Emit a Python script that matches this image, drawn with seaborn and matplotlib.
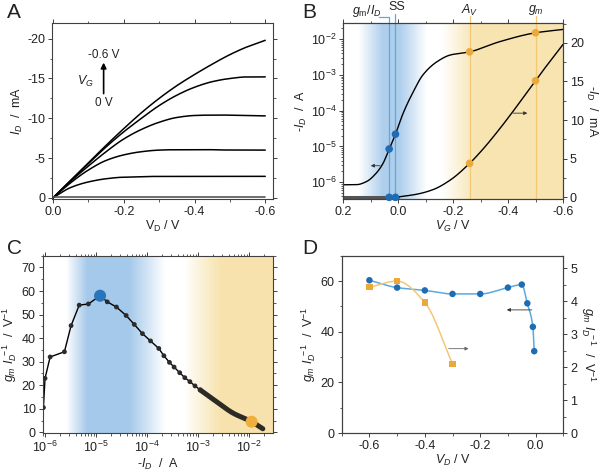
import numpy as np
import matplotlib
matplotlib.use("Agg")
import matplotlib.pyplot as plt
import seaborn as sns
from matplotlib.ticker import MultipleLocator, LogLocator, NullFormatter

# ---- data ----
# A: output curves, I_D (mA) vs V_D (V), one list per gate voltage
vd_a = [0.0, -0.05, -0.1, -0.15, -0.2, -0.25, -0.3, -0.35, -0.4, -0.45, -0.5, -0.55, -0.6]
id_vg06 = [0, -2.2, -4.4, -6.6, -8.7, -10.7, -12.5, -14.1, -15.5, -16.8, -18.0, -19.0, -19.8]
id_vg05 = [0, -2.2, -4.3, -6.4, -8.3, -10.0, -11.6, -12.9, -13.9, -14.6, -15.0, -15.2, -15.2]
id_vg04 = [0, -2.1, -4.0, -5.8, -7.4, -8.6, -9.5, -10.1, -10.35, -10.4, -10.4, -10.35, -10.3]
id_vg03 = [0, -1.9, -3.5, -4.7, -5.4, -5.8, -6.0, -6.05, -6.05, -6.05, -6.0, -6.0, -6.0]
id_vg02 = [0, -1.3, -2.0, -2.4, -2.6, -2.65, -2.7, -2.7, -2.7, -2.7, -2.7, -2.7, -2.7]
id_vg00 = [-0.05, -0.05, -0.05, -0.05, -0.05, -0.05, -0.05, -0.05, -0.05, -0.05, -0.05, -0.05, -0.05]

# B: transfer curve, log (A) and linear (mA)
vg_log = [0.2, 0.15, 0.115, 0.08, 0.055, 0.033, 0.01, -0.018, -0.055, -0.09, -0.14, -0.19, -0.26, -0.37, -0.5, -0.6]
id_log = [8.5e-7, 8.6e-7, 1.05e-6, 1.8e-6, 3.4e-6, 8.5e-6, 2.2e-5, 8.5e-5, 3.4e-4, 1.0e-3, 2.3e-3, 3.6e-3, 4.4e-3, 8.5e-3, 1.5e-2, 1.86e-2]
vg_off = [0.2, 0.1, 0.0]
id_off = [0.0, 0.0, 0.0]
vg_lin = [0.0, -0.067, -0.127, -0.188, -0.26, -0.31, -0.37, -0.43, -0.5, -0.55, -0.6]
id_lin = [0.05, 0.4, 1.0, 2.2, 4.4, 6.3, 8.9, 11.7, 15.1, 17.5, 19.8]
vg_blue = [0.033, 0.01]
id_blue_log = [8.5e-6, 2.2e-5]
id_blue_lin = [0.0, 0.0]
vg_orange = [-0.26, -0.5]
id_orange_log = [4.4e-3, 1.5e-2]
id_orange_lin = [4.4, 15.1]

# C: gm/ID vs -ID
id_c = [9.3e-7, 1.0e-6, 1.26e-6, 2.4e-6, 3.24e-6, 4.68e-6, 7.08e-6, 1.2e-5, 1.66e-5, 2.51e-5,
        3.89e-5, 5.62e-5, 8.13e-5, 1.17e-4, 1.7e-4, 2.14e-4, 2.75e-4, 3.39e-4, 4.37e-4, 5.5e-4,
        6.92e-4, 8.71e-4, 1.1e-3]
gm_c = [10.5, 22.9, 32.0, 34.2, 45.3, 54.0, 54.5, 58.0, 55.4, 53.2, 49.6, 45.8, 41.9, 38.8,
        35.6, 32.5, 29.7, 27.7, 25.3, 23.2, 21.5, 19.7, 18.0]
id_c_tail = [2.29e-3, 4.9e-3, 1.12e-2, 1.86e-2]
gm_c_tail = [13.0, 8.1, 4.5, 1.5]
c_peak = (1.2e-5, 58.0)
c_high = (1.12e-2, 4.5)

# D: gm/ID vs V_D
vd_d = [-0.6, -0.5, -0.4, -0.3, -0.2, -0.1, -0.05, -0.03, -0.01, -0.005]
gm_d_blue = [60.3, 57.4, 56.3, 54.9, 54.9, 57.4, 58.6, 51.2, 41.9, 32.3]
vd_d_or = [-0.6, -0.5, -0.4, -0.3]
gm_d_or = [4.42, 4.61, 3.96, 2.10]

# ---- style ----
sns.set_style("ticks")
plt.rcParams["font.family"] = ["Liberation Sans", "DejaVu Sans"]
plt.rcParams["mathtext.fontset"] = "custom"
plt.rcParams["mathtext.rm"] = "Liberation Sans"
plt.rcParams["mathtext.it"] = "Liberation Sans:italic"
plt.rcParams["mathtext.bf"] = "Liberation Sans:bold"
plt.rcParams["axes.unicode_minus"] = False
plt.rcParams["font.size"] = 9
plt.rcParams["axes.edgecolor"] = "#404040"
plt.rcParams["axes.linewidth"] = 0.8
plt.rcParams["text.color"] = "#222222"
plt.rcParams["axes.labelcolor"] = "#222222"
plt.rcParams["xtick.color"] = "#404040"
plt.rcParams["ytick.color"] = "#404040"
plt.rcParams["xtick.labelcolor"] = "#222222"
plt.rcParams["ytick.labelcolor"] = "#222222"

BLUE_DOT = "#1f6cb3"
BLUE_LINE = "#5aa9e0"
ORANGE_DOT = "#eaa93a"
ORANGE_LINE = "#f2c877"
BLUE_SHADE = (0.65, 0.79, 0.92)
YELLOW_SHADE = (0.97, 0.89, 0.68)


def pchip(x, y, n=300):
    # smooth monotone curve through the read points (for drawing only)
    x = np.asarray(x, float)
    y = np.asarray(y, float)
    o = np.argsort(x)
    x, y = x[o], y[o]
    h = np.diff(x)
    d = np.diff(y) / h
    m = np.zeros_like(y)
    m[0], m[-1] = d[0], d[-1]
    for k in range(1, len(x) - 1):
        if d[k - 1] * d[k] > 0:
            w1 = 2 * h[k] + h[k - 1]
            w2 = h[k] + 2 * h[k - 1]
            m[k] = (w1 + w2) / (w1 / d[k - 1] + w2 / d[k])
    xs = np.linspace(x[0], x[-1], n)
    i = np.clip(np.searchsorted(x, xs) - 1, 0, len(x) - 2)
    t = (xs - x[i]) / h[i]
    ys = ((2 * t**3 - 3 * t**2 + 1) * y[i] + (t**3 - 2 * t**2 + t) * h[i] * m[i]
          + (-2 * t**3 + 3 * t**2) * y[i + 1] + (t**3 - t**2) * h[i] * m[i + 1])
    return xs, ys


fig = plt.figure(figsize=(6.03, 4.75), dpi=100)


def shade(pos, stops):
    bg = fig.add_axes(pos, zorder=0)
    xs = np.linspace(0, 1, 600)
    img = np.ones((1, 600, 3))
    for rgb, fx, fa in stops:
        a = np.interp(xs, fx, fa)[None, :, None]
        img = img * (1 - a) + np.array(rgb)[None, None, :] * a
    bg.imshow(img, extent=[0, 1, 0, 1], aspect="auto", interpolation="bilinear")
    bg.set_xlim(0, 1)
    bg.set_ylim(0, 1)
    bg.axis("off")


def arrow(ax, head, tail, color="#333333"):
    ax.annotate("", xy=head, xytext=tail,
                arrowprops=dict(arrowstyle="-|>", lw=0.6, color=color, mutation_scale=5,
                                shrinkA=0, shrinkB=0))


pos_a = [0.0868, 0.581, 0.366, 0.371]
pos_b = [0.5693, 0.581, 0.3644, 0.371]
pos_c = [0.0708, 0.0884, 0.382, 0.3733]
pos_d = [0.5667, 0.0884, 0.3675, 0.3733]

# ---- A ----
ax_a = fig.add_axes(pos_a)
for curve in [id_vg06, id_vg05, id_vg04, id_vg03, id_vg02]:
    xs, ys = pchip(vd_a, curve)
    sns.lineplot(x=xs, y=ys, ax=ax_a, color="black", lw=1.1)
sns.lineplot(x=vd_a, y=id_vg00, ax=ax_a, color="#555555", lw=1.2)
ax_a.set_xlim(0.002, -0.622)
ax_a.set_ylim(0.15, -22)
ax_a.xaxis.set_major_locator(MultipleLocator(0.2))
ax_a.xaxis.set_minor_locator(MultipleLocator(0.1))
ax_a.yaxis.set_major_locator(MultipleLocator(5))
ax_a.yaxis.set_minor_locator(MultipleLocator(2.5))
ax_a.xaxis.set_major_formatter(plt.FuncFormatter(lambda v, p: f"{v:.1f}"))
ax_a.yaxis.set_major_formatter(plt.FuncFormatter(lambda v, p: f"{v:.0f}"))
ax_a.set_xlabel(r"V$_{\rm D}$ / V", labelpad=1)
ax_a.set_ylabel(r"$I_D$  /  mA", labelpad=2)
ax_a.annotate("", xy=(-0.143, -17.0), xytext=(-0.143, -13.1),
              arrowprops=dict(arrowstyle="-|>", lw=1.2, color="black", mutation_scale=8,
                              shrinkA=0, shrinkB=0))
ax_a.text(-0.143, -18.0, "-0.6 V", ha="center", va="center", fontsize=8.5)
ax_a.text(-0.143, -11.9, "0 V", ha="center", va="center", fontsize=8.5)
ax_a.text(-0.092, -14.6, r"$V_G$", ha="center", va="center", fontsize=9)

# ---- B ----
shade(pos_b, [(BLUE_SHADE, [0, 0.07, 0.18, 0.26, 0.38, 1], [0, 0, 0.9, 0.9, 0, 0]),
              (YELLOW_SHADE, [0, 0.45, 0.6, 1], [0, 0, 0.95, 0.95])])
ax_b = fig.add_axes(pos_b, zorder=1)
ax_b.patch.set_visible(False)
ax_b.set_yscale("log")
xs, ys = pchip(vg_log, np.log10(id_log))
sns.lineplot(x=xs, y=10**ys, ax=ax_b, color="black", lw=1.0, zorder=3)
xfm = ax_b.get_xaxis_transform()
ax_b.plot([0.069, 0.033, 0.033], [1.031, 1.031, 0], transform=xfm, clip_on=False,
          color=BLUE_LINE, lw=0.9, zorder=2)
ax_b.plot([0.01, 0.01], [1.049, 0], transform=xfm, clip_on=False, color=BLUE_LINE, lw=0.9, zorder=2)
for v in vg_orange:
    ax_b.plot([v, v], [1.038, 0], transform=xfm, clip_on=False, color=ORANGE_LINE, lw=0.9, zorder=2)
ax_b.text(0.114, 1.065, r"$g_{\rm m}/I_D$", transform=xfm, ha="center", va="center", fontsize=9)
ax_b.text(0.005, 1.088, "SS", transform=xfm, ha="center", va="center", fontsize=9)
ax_b.text(-0.26, 1.072, r"$A_V$", transform=xfm, ha="center", va="center", fontsize=9)
ax_b.text(-0.5, 1.072, r"$g_m$", transform=xfm, ha="center", va="center", fontsize=9)
sns.scatterplot(x=vg_blue, y=id_blue_log, ax=ax_b, color=BLUE_DOT, s=30, edgecolor="none", zorder=4)
sns.scatterplot(x=vg_orange, y=id_orange_log, ax=ax_b, color=ORANGE_DOT, s=30, edgecolor="none", zorder=4)
arrow(ax_b, (0.1, 2.9e-6), (0.066, 2.9e-6))
ax_b.set_xlim(0.2, -0.6)
ax_b.set_ylim(3.4e-7, 2.85e-2)
ax_b.xaxis.set_major_locator(MultipleLocator(0.2))
ax_b.xaxis.set_minor_locator(MultipleLocator(0.1))
ax_b.xaxis.set_major_formatter(plt.FuncFormatter(lambda v, p: f"{v:.1f}"))
ax_b.yaxis.set_major_locator(LogLocator(numticks=10))
ax_b.yaxis.set_minor_locator(LogLocator(subs=np.arange(2, 10), numticks=20))
ax_b.yaxis.set_minor_formatter(NullFormatter())
ax_b.set_xlabel(r"$V_G$ / V", labelpad=1)
ax_b.set_ylabel(r"-$I_D$  /  A", labelpad=1)

ax_b2 = ax_b.twinx()
ax_b2.set_zorder(2)
ax_b2.patch.set_visible(False)
sns.lineplot(x=vg_off, y=id_off, ax=ax_b2, color="#555555", lw=2.2)
xs, ys = pchip(vg_lin, id_lin)
sns.lineplot(x=xs, y=ys, ax=ax_b2, color="black", lw=1.0)
sns.scatterplot(x=vg_blue, y=id_blue_lin, ax=ax_b2, color=BLUE_DOT, s=30, edgecolor="none", zorder=4, clip_on=False)
sns.scatterplot(x=vg_orange, y=id_orange_lin, ax=ax_b2, color=ORANGE_DOT, s=30, edgecolor="none", zorder=4)
arrow(ax_b2, (-0.47, 10.9), (-0.418, 10.9))
ax_b2.set_ylim(-0.22, 22.6)
ax_b2.yaxis.set_major_locator(MultipleLocator(5))
ax_b2.yaxis.set_minor_locator(MultipleLocator(2.5))
ax_b2.set_ylabel(r"-$I_D$  /  mA", rotation=270, labelpad=11)
ax_b.set_xlim(0.2, -0.6)

# ---- C ----
shade(pos_c, [(BLUE_SHADE, [0, 0.1, 0.19, 0.375, 0.53, 1], [0, 0, 1, 1, 0, 0]),
              (YELLOW_SHADE, [0, 0.61, 0.77, 1], [0, 0, 1, 1])])
ax_c = fig.add_axes(pos_c, zorder=1)
ax_c.patch.set_visible(False)
ax_c.set_xscale("log")
sns.lineplot(x=id_c, y=gm_c, ax=ax_c, color="black", lw=1.0, sort=False)
tx = np.concatenate([id_c[-1:], id_c_tail])
ty = np.concatenate([gm_c[-1:], gm_c_tail])
xs, ys = pchip(np.log10(tx), ty)
sns.lineplot(x=10**xs, y=ys, ax=ax_c, color="#2b2a24", lw=3.6)
sns.scatterplot(x=id_c, y=gm_c, ax=ax_c, color="#2b2b2b", s=12, edgecolor="none", zorder=3)
sns.scatterplot(x=[c_peak[0]], y=[c_peak[1]], ax=ax_c, color="#2a74ba", s=75, edgecolor="none", zorder=4)
sns.scatterplot(x=[c_high[0]], y=[c_high[1]], ax=ax_c, color="#f0ae3c", s=75, edgecolor="none", zorder=4)
ax_c.set_xlim(9.0e-7, 2.95e-2)
ax_c.set_ylim(-0.3, 75)
ax_c.xaxis.set_major_locator(LogLocator(numticks=10))
ax_c.xaxis.set_minor_locator(LogLocator(subs=np.arange(2, 10), numticks=20))
ax_c.xaxis.set_minor_formatter(NullFormatter())
ax_c.yaxis.set_major_locator(MultipleLocator(10))
ax_c.yaxis.set_minor_locator(MultipleLocator(5))
ax_c.set_xlabel(r"-$I_D$  /  A", labelpad=1)
ax_c.set_ylabel(r"$g_m\ I_D^{\ -1}$  /  V$^{-1}$", labelpad=2)

# ---- D ----
ax_d = fig.add_axes(pos_d)
xs, ys = pchip(vd_d, gm_d_blue)
sns.lineplot(x=xs, y=ys, ax=ax_d, color=BLUE_LINE, lw=1.1)
sns.scatterplot(x=vd_d, y=gm_d_blue, ax=ax_d, color=BLUE_DOT, s=22, edgecolor="none", zorder=4)
arrow(ax_d, (-0.104, 48.6), (-0.014, 48.6))
arrow(ax_d, (-0.242, 33.3), (-0.314, 33.3), color="#666666")
ax_d.set_xlim(-0.7, 0.1)
ax_d.set_ylim(0, 70)
ax_d.xaxis.set_major_locator(MultipleLocator(0.2))
ax_d.xaxis.set_minor_locator(MultipleLocator(0.1))
ax_d.xaxis.set_major_formatter(plt.FuncFormatter(lambda v, p: f"{v:.1f}" if abs(v) > 1e-9 else "0.0"))
ax_d.yaxis.set_major_locator(MultipleLocator(20))
ax_d.yaxis.set_minor_locator(MultipleLocator(10))
ax_d.set_xlabel(r"$V_D$ / V", labelpad=1)
ax_d.set_ylabel(r"$g_m\ I_D^{\ -1}$  /  V$^{-1}$", labelpad=2)
ax_d2 = ax_d.twinx()
xs, ys = pchip(vd_d_or, gm_d_or)
sns.lineplot(x=xs, y=ys, ax=ax_d2, color=ORANGE_LINE, lw=1.1)
sns.scatterplot(x=vd_d_or, y=gm_d_or, ax=ax_d2, color=ORANGE_DOT, s=20, marker="s", edgecolor="none", zorder=4)
ax_d2.set_ylim(0, 5.38)
ax_d2.yaxis.set_major_locator(MultipleLocator(1))
ax_d2.yaxis.set_minor_locator(MultipleLocator(0.5))
ax_d2.set_ylabel(r"$g_m\ I_D^{\ -1}$  /  V$^{-1}$", rotation=270, labelpad=15)
ax_d.set_xlim(-0.7, 0.1)

for ax in [ax_a, ax_b, ax_b2, ax_c, ax_d, ax_d2]:
    ax.tick_params(which="major", length=3, width=0.7, pad=2, labelsize=9)
    ax.tick_params(which="minor", length=1.8, width=0.6)
for ax in [ax_a, ax_c]:
    ax.tick_params(which="both", top=True, right=True)
ax_b.tick_params(which="both", top=True)
ax_d.tick_params(which="both", top=False)

for lab, x, y in [("A", 0.012, 0.973), ("B", 0.502, 0.973), ("C", 0.012, 0.476), ("D", 0.502, 0.476)]:
    fig.text(x, y, lab, fontsize=15, ha="left", va="center")

fig.savefig("out.png", dpi=100)
